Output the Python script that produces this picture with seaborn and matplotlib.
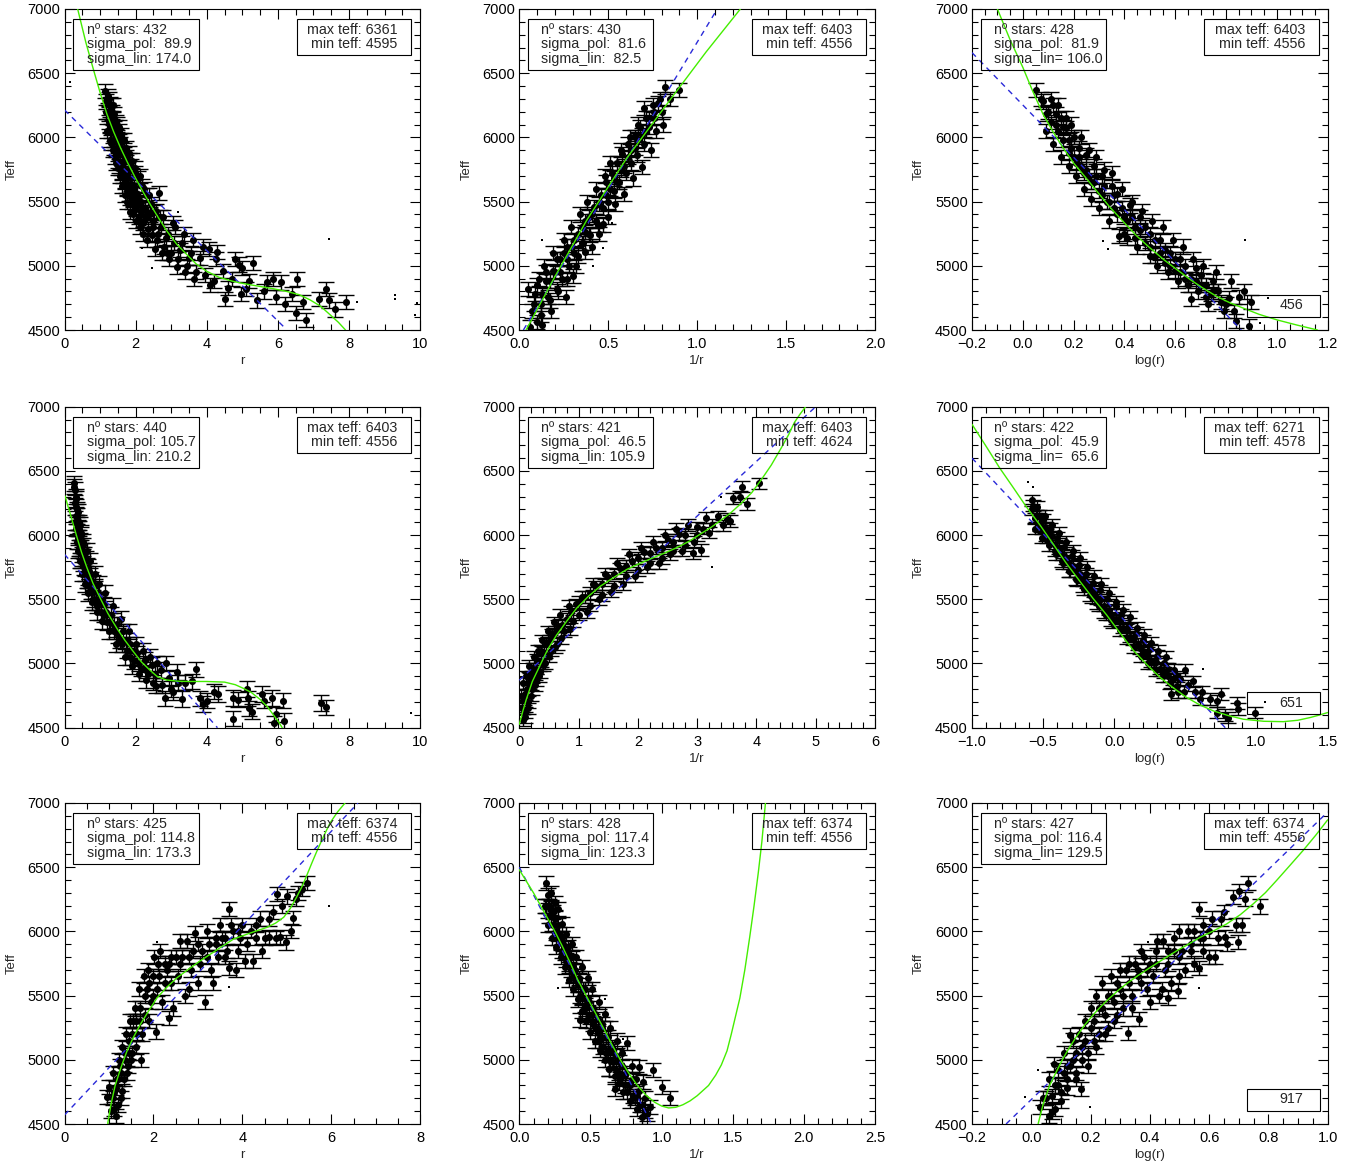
import numpy as np
import matplotlib
matplotlib.use("Agg")
import matplotlib.pyplot as plt
from matplotlib.patches import Rectangle
from matplotlib.ticker import MultipleLocator
import seaborn as sns

sns.set_style("ticks")
plt.rcParams['font.family'] = ['Liberation Sans', 'DejaVu Sans']

# ================= data =================
# stars with error bars, (x, Teff): isolated / edge stars
p1_pts = [(1.13,6361),(1.18,6280),(1.22,6200),(1.25,6120),(1.3,6250),(1.32,6050),(1.35,6150),(1.38,5980),
          (1.42,6080),(1.45,5900),(1.48,6000),(1.5,5820),(1.55,5950),(1.58,5760),(1.62,5880),(1.65,5700),
          (1.7,5820),(1.72,5620),(1.78,5750),(1.8,5560),(1.85,5680),(1.9,5500),(1.95,5620),(2.0,5440),
          (2.05,5560),(2.1,5380),(2.15,5500),(2.2,5330),(2.25,5450),(2.35,5290),(2.4,5400),(2.45,5240),
          (2.5,5350),(2.6,5200),(2.65,5570),(2.7,5300),(2.8,5150),(2.9,5250),(3.0,5100),(3.1,5300),
          (3.2,5050),(3.3,5180),(3.45,5000),(3.55,5100),(3.7,4950),(3.8,5060),(3.95,4930),(4.05,5130),
          (4.2,4880),(4.3,5110),(4.45,4960),(4.5,4740),(4.7,4900),(4.9,5010),(4.95,4780),(5.0,4980),
          (5.2,4880),(5.3,5020),(5.4,4730),(5.6,4800),(5.85,4900),(5.95,4760),(6.1,4870),(6.2,4700),
          (6.4,4780),(6.5,4630),(6.55,4900),(6.7,4720),(6.8,4580),(7.15,4740),(7.35,4820),(7.45,4730),
          (7.6,4660),(7.9,4720)]
p2_pts = [(0.07,4650),(0.09,4780),(0.1,4560),(0.12,4700),(0.13,4540),(0.15,4880),(0.16,4760),(0.18,4650),
          (0.2,4950),(0.21,4820),(0.23,5050),(0.24,4900),(0.26,4760),(0.27,5150),(0.28,5000),(0.3,4920),
          (0.31,5200),(0.33,5080),(0.35,5300),(0.36,5180),(0.37,5105),(0.39,5380),(0.4,5243),(0.42,5460),
          (0.44,5320),(0.46,5550),(0.47,5322),(0.49,5650),(0.5,5500),(0.52,5720),(0.53,5580),(0.55,5800),
          (0.56,5650),(0.58,5870),(0.6,5720),(0.61,5950),(0.63,5800),(0.65,6000),(0.66,5860),(0.68,6080),
          (0.7,5950),(0.7,6230),(0.73,6080),(0.76,6150),(0.78,6270),(0.8,6200),(0.82,6390),(0.85,6300),
          (0.9,6370)]
p3_pts = [(0.05,6370),(0.08,6280),(0.1,6200),(0.12,6250),(0.13,6100),(0.15,6150),(0.16,5980),(0.17,6070),
          (0.18,5880),(0.2,6000),(0.21,5800),(0.22,5920),(0.24,5720),(0.25,5860),(0.27,5650),(0.28,5780),
          (0.3,5580),(0.31,5700),(0.33,5500),(0.35,5720),(0.36,5450),(0.37,5560),(0.38,5230),(0.4,5380),
          (0.41,5220),(0.42,5470),(0.44,5300),(0.46,5380),(0.48,5180),(0.5,5250),(0.52,5080),(0.54,5200),
          (0.56,5020),(0.58,5100),(0.6,4960),(0.62,5050),(0.64,4900),(0.66,4740),(0.68,4980),(0.7,4850),
          (0.72,4760),(0.73,4700),(0.75,4880),(0.77,4800),(0.79,4650),(0.8,4700),(0.82,4880),(0.84,4570),
          (0.85,4760),(0.87,4800),(0.89,4530),(0.9,4720)]
p4_pts = [(0.27,6403),(0.28,6378),(0.29,6250),(0.31,6300),(0.32,6150),(0.35,6200),(0.37,6050),(0.4,6100),
          (0.42,5950),(0.45,6000),(0.48,5850),(0.52,5920),(0.55,5750),(0.6,5820),(0.65,5650),(0.7,5720),
          (0.75,5560),(0.8,5630),(0.88,5480),(0.95,5550),(1.02,5400),(1.1,5460),(1.2,5320),(1.3,5380),
          (1.4,5250),(1.47,5306),(1.55,5180),(1.65,5250),(1.75,5100),(1.85,5150),(1.95,5020),(2.05,5080),
          (2.15,4960),(2.25,5030),(2.35,4920),(2.45,4990),(2.57,4828),(2.7,4950),(2.83,4728),(2.94,4886),
          (3.06,4776),(3.16,4933),(3.3,4724),(3.4,4850),(3.58,4860),(3.69,4954),(3.8,4728),(3.89,4684),
          (4.02,4710),(4.19,4781),(4.31,4763),(4.73,4571),(4.75,4731),(4.89,4718),(5.13,4802),(5.17,4728),
          (5.2,4650),(5.28,4624),(5.55,4763),(5.6,4710),(5.83,4731),(5.88,4534),(5.94,4605),(6.13,4710),
          (6.18,4553),(7.21,4692),(7.36,4658)]
p5_pts = [(0.05,4650),(0.07,4560),(0.08,4720),(0.1,4580),(0.13,4800),(0.15,4650),(0.18,4880),(0.2,4750),
          (0.23,4960),(0.26,4830),(0.3,5030),(0.33,4900),(0.37,5100),(0.4,4990),(0.45,5150),(0.5,5060),
          (0.55,5220),(0.6,5130),(0.65,5290),(0.7,5200),(0.8,5350),(0.85,5270),(0.95,5460),(1.0,5380),
          (1.1,5520),(1.2,5450),(1.3,5600),(1.4,5530),(1.5,5670),(1.6,5600),(1.7,5740),(1.8,5680),
          (1.9,5800),(2.0,5730),(2.1,5870),(2.2,5780),(2.3,5900),(2.4,5820),(2.5,5960),(2.6,5880),
          (2.7,6010),(2.8,5920),(2.93,5858),(3.0,6060),(3.07,5884),(3.15,6136),(3.2,6020),(3.36,6146),
          (3.43,6076),(3.5,6128),(3.55,6110),(3.6,6286),(3.73,6299),(3.76,6378),(3.84,6241),(4.04,6403)]
p6_pts = [(-0.58,6271),(-0.57,6230),(-0.55,6150),(-0.52,6080),(-0.5,6120),(-0.48,6000),(-0.45,6050),
          (-0.42,5920),(-0.4,5980),(-0.37,5850),(-0.35,5910),(-0.32,5780),(-0.3,5840),(-0.27,5720),
          (-0.25,5770),(-0.22,5650),(-0.2,5700),(-0.17,5580),(-0.15,5630),(-0.12,5510),(-0.1,5570),
          (-0.07,5450),(-0.05,5500),(-0.02,5380),(0.015,5445),(0.03,5330),(0.05,5380),(0.08,5260),
          (0.1,5310),(0.13,5190),(0.15,5240),(0.18,5120),(0.2,5180),(0.23,5060),(0.25,5110),(0.28,5000),
          (0.3,5060),(0.33,4950),(0.35,5000),(0.38,4900),(0.4,4763),(0.42,4950),(0.44,4823),(0.46,4880),
          (0.49,4776),(0.52,4830),(0.55,4860),(0.6,4723),(0.62,4780),(0.67,4723),(0.72,4710),(0.72,4618),
          (0.75,4763),(0.78,4597),(0.8,4578),(0.86,4692),(0.87,4645),(0.99,4618)]
p7_pts = [(0.95,4709),(1.01,4788),(1.05,4600),(1.1,4700),(1.15,4560),(1.18,4850),(1.2,4650),(1.25,4950),
          (1.3,4760),(1.35,5050),(1.4,4900),(1.45,5150),(1.5,5000),(1.55,5300),(1.6,5100),(1.7,5400),
          (1.75,5200),(1.85,5550),(1.9,5300),(2.0,5650),(2.06,5220),(2.1,5750),(2.2,5450),(2.3,5700),
          (2.34,5324),(2.4,5600),(2.5,5800),(2.6,5927),(2.7,5500),(2.75,5927),(2.85,5700),(2.94,5984),
          (3.0,5600),(3.1,5850),(3.2,6000),(3.3,5700),(3.4,5900),(3.5,6050),(3.6,5800),(3.69,5717),
          (3.7,6175),(3.8,6000),(3.9,5850),(4.0,6050),(4.06,5770),(4.2,6000),(4.25,5770),(4.4,6100),
          (4.5,5950),(4.59,5953),(4.7,6150),(4.78,6293),(4.85,5953),(4.99,5914),(5.0,6272),(5.13,6102),
          (5.2,6250),(5.34,6330),(5.45,6374)]
p8_pts = [(0.19,6374),(0.2,6280),(0.21,6200),(0.22,6120),(0.24,6050),(0.25,6220),(0.27,6175),(0.28,5980),
          (0.3,6060),(0.31,5900),(0.33,5980),(0.35,5820),(0.37,5900),(0.38,5730),(0.4,5800),(0.42,5640),
          (0.43,5311),(0.44,5720),(0.46,5550),(0.48,5640),(0.49,5450),(0.51,5550),(0.53,5360),(0.55,5220),
          (0.56,5450),(0.58,5280),(0.6,5360),(0.61,5180),(0.63,4932),(0.64,5250),(0.66,5080),(0.67,4775),
          (0.69,5150),(0.7,4980),(0.72,5050),(0.74,4880),(0.76,5128),(0.77,4800),(0.79,4950),(0.8,4720),
          (0.82,4850),(0.84,4945),(0.85,4650),(0.86,4552),(0.87,4827),(0.88,4600),(0.92,4631),(0.94,4919),
          (1.0,4788),(1.06,4704)]
p9_pts = [(0.03,4631),(0.05,4700),(0.06,4560),(0.07,4597),(0.077,4964),(0.08,4800),(0.1,4680),(0.11,4900),
          (0.12,4780),(0.13,5194),(0.14,5000),(0.15,4850),(0.167,4775),(0.17,5100),(0.19,4950),(0.2,5250),
          (0.22,5100),(0.23,5400),(0.25,5200),(0.26,5500),(0.28,5300),(0.29,5600),(0.31,5400),(0.32,5700),
          (0.327,5207),(0.34,5500),(0.35,5750),(0.364,5317),(0.37,5600),(0.38,5800),(0.4,5450),(0.41,5650),
          (0.423,5927),(0.44,5550),(0.445,5927),(0.46,5750),(0.462,5482),(0.48,5850),(0.496,5534),(0.5,6000),
          (0.52,5700),(0.54,5900),(0.55,6000),(0.567,6175),(0.567,5717),(0.58,5850),(0.6,6000),(0.62,5800),
          (0.64,6100),(0.654,5953),(0.68,6270),(0.699,5919),(0.7,6312),(0.71,6050),(0.73,6374),(0.77,6194)]

# stars with error bars inside the crowded band
p1_band = [(1.2,6050),(1.25,6300),(1.28,5980),(1.33,6200),(1.37,5900),(1.4,6180),(1.43,5850),(1.47,6100),
           (1.5,5760),(1.53,6050),(1.56,5700),(1.6,5980),(1.63,5620),(1.67,5900),(1.7,5550),(1.74,5850),
           (1.77,5500),(1.82,5820),(1.85,5420),(1.88,5780),(1.92,5400),(1.97,5720),(2.02,5350),(2.08,5680),
           (2.12,5300),(2.18,5620),(2.22,5250),(2.3,5550),(2.32,5200),(2.42,5480),(2.55,5130),(2.58,5430),
           (2.75,5100),(2.78,5380),(2.95,5050),(3.05,5330),(3.15,4990),(3.35,5250),(3.4,4950),(3.6,5200),
           (3.65,4900),(3.9,5150),(4.1,4850),(4.25,5050),(4.6,4830),(4.8,5050),(5.1,4820),(5.7,4870),
           (1.16,6200),(1.21,6320),(1.24,6180),(1.27,6100),(1.29,6260),(1.31,5960),(1.34,6080),(1.36,6250),
           (1.39,5920),(1.41,6020),(1.44,6120),(1.46,5800),(1.49,5920),(1.52,6080),(1.54,5780),(1.57,5880),
           (1.59,6020),(1.61,5720),(1.64,5800),(1.66,5980),(1.69,5650),(1.71,5750),(1.73,5920),(1.76,5600),
           (1.79,5700),(1.81,5880),(1.84,5560),(1.87,5640),(1.89,5820),(1.93,5520),(1.96,5580),(1.99,5760),
           (2.03,5480),(2.07,5520),(2.11,5700),(2.14,5420),(2.19,5460),(2.24,5600),(2.28,5380),(2.33,5400),
           (2.38,5550),(2.48,5300),(2.53,5420),(2.63,5250),(2.68,5380),(2.85,5220),(2.88,5100),(3.08,5180),
           (3.25,5120),(3.5,5060)]
p2_band = [(0.05,4820),(0.06,4520),(0.11,4900),(0.12,4620),(0.14,5000),(0.17,4730),(0.19,5100),(0.22,4800),
           (0.25,5200),(0.27,4900),(0.29,5300),(0.32,5000),(0.34,5400),(0.37,5260),(0.38,5500),(0.41,5150),
           (0.43,5600),(0.45,5250),(0.48,5700),(0.5,5380),(0.51,5800),(0.54,5480),(0.57,5900),(0.59,5560),
           (0.62,6000),(0.64,5680),(0.67,6100),(0.69,5770),(0.71,6150),(0.74,5900),(0.75,6250),(0.77,6050),
           (0.79,6300),(0.81,6100),
           (0.08,4700),(0.1,4850),(0.13,4780),(0.15,4950),(0.17,4880),(0.19,4960),(0.21,5050),(0.23,4950),
           (0.25,5100),(0.27,5050),(0.29,5150),(0.31,5100),(0.33,5250),(0.35,5180),(0.37,5350),(0.39,5250),
           (0.41,5400),(0.43,5350),(0.45,5480),(0.47,5450),(0.49,5550),(0.51,5600),(0.53,5680),(0.55,5650),
           (0.57,5750),(0.59,5780),(0.61,5850),(0.63,5900),(0.65,5920),(0.67,5980),(0.69,6020),(0.71,6050),
           (0.73,6150),(0.76,6200)]
p3_band = [(0.07,6300),(0.09,6050),(0.11,6300),(0.12,5950),(0.14,6250),(0.15,5850),(0.17,6150),(0.18,5780),
           (0.19,6100),(0.21,5700),(0.23,6000),(0.24,5600),(0.26,5900),(0.27,5520),(0.29,5850),(0.3,5450),
           (0.32,5750),(0.34,5350),(0.35,5620),(0.39,5600),(0.4,5250),(0.43,5500),(0.45,5150),(0.47,5430),
           (0.5,5080),(0.51,5350),(0.53,5000),(0.55,5300),(0.57,4950),(0.59,5200),(0.61,4880),(0.63,5150),
           (0.65,4850),(0.67,5050),(0.69,4800),(0.71,5000),(0.74,4780),(0.76,4950),(0.78,4720),(0.81,4750),
           (0.83,4650),
           (0.09,6180),(0.11,6120),(0.13,6180),(0.14,6050),(0.16,6080),(0.18,5980),(0.19,5920),(0.2,5850),
           (0.22,5850),(0.23,5780),(0.25,5750),(0.26,5700),(0.28,5650),(0.29,5700),(0.31,5550),(0.32,5620),
           (0.34,5500),(0.36,5550),(0.37,5400),(0.39,5450),(0.41,5350),(0.43,5380),(0.44,5220),(0.46,5280),
           (0.48,5300),(0.5,5150),(0.52,5200),(0.54,5100),(0.56,5120),(0.58,5000),(0.6,5050),(0.62,4950),
           (0.64,5000),(0.66,4900),(0.68,4880),(0.7,4930),(0.72,4850),(0.75,4800)]
p4_band = [(0.3,6100),(0.33,6280),(0.34,5950),(0.36,6150),(0.38,5880),(0.41,6050),(0.43,5800),(0.46,6020),
           (0.5,5700),(0.53,5950),(0.57,5620),(0.62,5880),(0.67,5550),(0.72,5800),(0.78,5480),(0.85,5700),
           (0.9,5400),(0.98,5620),(1.05,5330),(1.15,5550),(1.25,5250),(1.35,5450),(1.45,5150),(1.6,5350),
           (1.7,5050),(1.8,5250),(1.9,4980),(2.0,5150),(2.1,4920),(2.2,5100),(2.3,4870),(2.4,5050),
           (2.5,4850),(2.6,5000),(2.75,4830),(2.85,5000),(3.0,4800),(3.2,4850),
           (0.3,6350),(0.32,6220),(0.33,6050),(0.35,6100),(0.37,5980),(0.39,6180),(0.4,5900),(0.43,5900),
           (0.44,6080),(0.47,5800),(0.5,5880),(0.52,5780),(0.56,5850),(0.58,5700),(0.62,5650),(0.66,5750),
           (0.7,5600),(0.74,5650),(0.78,5560),(0.82,5500),(0.87,5600),(0.92,5450),(0.97,5480),(1.03,5500),
           (1.1,5380),(1.18,5400),(1.28,5330),(1.38,5300),(1.5,5220),(1.62,5150),(1.72,5180),(1.85,5050),
           (1.95,5100),(2.1,5000),(2.3,4950),(2.55,4920)]
p5_band = [(0.03,4750),(0.06,4850),(0.09,4620),(0.11,4900),(0.14,4700),(0.17,4980),(0.21,4800),(0.25,5050),
           (0.28,4870),(0.32,5100),(0.35,4930),(0.39,5180),(0.43,5000),(0.48,5250),(0.53,5100),(0.58,5320),
           (0.63,5150),(0.68,5380),(0.75,5250),(0.83,5450),(0.9,5330),(1.05,5520),(1.15,5400),(1.25,5620),
           (1.35,5500),(1.45,5700),(1.55,5560),(1.65,5780),(1.75,5620),(1.85,5850),(1.95,5680),(2.05,5900),
           (2.15,5750),(2.25,5950),(2.35,5780),(2.45,6000),(2.55,5850),(2.65,6050),(2.75,5880),(2.85,6080),
           (2.95,5950),(3.1,6050),(3.25,6080),
           (0.1,4760),(0.16,4850),(0.22,4900),(0.29,4960),(0.36,5020),(0.42,5080),(0.52,5180),(0.62,5250),
           (0.72,5300),(0.88,5400),(1.0,5480),(1.2,5550),(1.4,5620),(1.6,5700),(1.8,5760),(2.0,5820),
           (2.2,5860),(2.4,5900),(2.6,5950),(2.8,6000),(3.0,6000)]
p6_band = [(-0.56,6050),(-0.54,6220),(-0.51,5980),(-0.49,6150),(-0.46,5920),(-0.44,6080),(-0.41,5850),
           (-0.39,6020),(-0.36,5780),(-0.34,5950),(-0.31,5720),(-0.29,5880),(-0.26,5650),(-0.24,5820),
           (-0.21,5580),(-0.19,5750),(-0.16,5520),(-0.14,5680),(-0.11,5450),(-0.09,5620),(-0.06,5380),
           (-0.04,5550),(-0.01,5320),(0.01,5480),(0.04,5260),(0.06,5420),(0.09,5200),(0.11,5360),(0.14,5130),
           (0.16,5280),(0.19,5060),(0.21,5220),(0.24,5000),(0.26,5160),(0.29,4950),(0.31,5100),(0.34,4900),
           (0.36,5050),(0.39,4850),(0.45,4780),(0.5,4950),(0.57,4780),
           (-0.58,6200),(-0.56,6130),(-0.53,6150),(-0.51,6050),(-0.49,6060),(-0.47,5980),(-0.44,5990),
           (-0.42,5880),(-0.39,5900),(-0.37,5800),(-0.34,5820),(-0.32,5720),(-0.29,5760),(-0.27,5660),
           (-0.24,5700),(-0.22,5600),(-0.19,5630),(-0.17,5530),(-0.14,5560),(-0.12,5470),(-0.09,5500),
           (-0.07,5400),(-0.04,5420),(-0.02,5340),(0.01,5350),(0.04,5330),(0.06,5280),(0.09,5270),(0.11,5210),
           (0.14,5200),(0.17,5150),(0.2,5100),(0.23,5080),(0.26,5020),(0.29,5010),(0.32,4960),(0.35,4930),
           (0.38,4960),(0.41,4880),(0.44,4900)]
p7_band = [(1.08,4900),(1.12,4620),(1.16,4780),(1.22,5000),(1.26,4700),(1.3,5100),(1.33,4850),(1.38,5200),
           (1.42,4950),(1.48,5300),(1.52,5050),(1.58,5400),(1.62,5200),(1.67,5550),(1.72,5000),(1.78,5650),
           (1.82,5350),(1.88,5700),(1.95,5450),(2.02,5800),(2.08,5550),(2.15,5850),(2.25,5600),(2.35,5750),
           (2.45,5400),(2.55,5650),(2.65,5800),(2.8,5550),(2.9,5850),(3.05,5750),(3.15,5450),(3.25,5900),
           (3.35,5600),(3.45,5800),(3.55,5950),(3.65,5850),(3.75,6050),(3.85,5700),(3.95,5950),(4.1,5900),
           (4.3,6050),(4.45,5850),(4.6,6100),(4.75,5950),(4.9,6200),(5.1,6000),(5.25,6300),
           (1.12,4750),(1.2,4850),(1.28,4900),(1.36,5000),(1.44,5050),(1.52,5200),(1.6,5300),(1.7,5300),
           (1.8,5500),(1.9,5600),(2.0,5500),(2.12,5650),(2.25,5750),(2.4,5800),(2.6,5750),(2.8,5800),
           (3.0,5900),(3.2,5800),(3.4,5950),(3.6,5950),(3.9,6000),(4.3,5950)]
p8_band = [(0.18,6200),(0.2,6050),(0.22,6300),(0.23,5950),(0.25,6100),(0.26,5880),(0.27,6050),(0.29,5800),
           (0.3,5950),(0.32,5720),(0.34,5880),(0.35,5620),(0.36,5800),(0.38,5550),(0.39,5700),(0.41,5470),
           (0.42,5620),(0.44,5380),(0.45,5550),(0.47,5300),(0.48,5480),(0.5,5220),(0.52,5400),(0.53,5150),
           (0.55,5320),(0.57,5080),(0.58,5250),(0.6,5000),(0.62,5180),(0.63,4930),(0.65,5100),(0.67,4870),
           (0.68,5030),(0.7,4820),(0.72,4950),(0.73,4750),(0.75,4900),(0.78,4680),(0.8,4850),(0.83,4620),
           (0.84,4760),(0.86,4650),(0.88,4700),(0.9,4580),
           (0.19,6200),(0.21,6120),(0.22,6180),(0.24,6150),(0.26,6000),(0.27,5950),(0.29,5920),(0.3,5850),
           (0.32,5850),(0.33,5780),(0.35,5750),(0.36,5700),(0.38,5650),(0.4,5620),(0.41,5580),(0.43,5500),
           (0.44,5480),(0.46,5430),(0.47,5400),(0.49,5350),(0.51,5300),(0.52,5280),(0.54,5250),(0.56,5150),
           (0.57,5180),(0.59,5100),(0.61,5050),(0.62,5080),(0.64,5000),(0.66,4980),(0.68,4920),(0.7,4900),
           (0.71,4850),(0.74,4800),(0.76,4750),(0.78,4800),(0.81,4700),(0.83,4720)]
p9_band = [(0.04,4700),(0.06,4850),(0.08,4620),(0.09,4920),(0.1,4750),(0.11,5050),(0.12,4850),(0.13,4950),
           (0.14,5150),(0.15,4900),(0.16,5200),(0.17,5000),(0.18,5300),(0.19,5050),(0.2,5400),(0.21,5150),
           (0.22,5500),(0.23,5200),(0.24,5600),(0.25,5350),(0.26,5250),(0.27,5650),(0.28,5450),(0.29,5350),
           (0.3,5700),(0.31,5500),(0.33,5750),(0.34,5400),(0.36,5650),(0.37,5850),(0.39,5550),(0.4,5750),
           (0.42,5850),(0.43,5500),(0.45,5700),(0.47,5600),(0.48,5950),(0.5,5650),(0.51,5850),(0.53,6000),
           (0.55,5750),(0.57,5950),(0.58,6050),(0.6,5800),(0.61,6100),(0.63,5950),(0.65,6150),(0.66,5900),
           (0.69,6050),(0.72,6250),
           (0.07,4720),(0.09,4800),(0.12,4950),(0.15,5050),(0.18,5150),(0.21,5300),(0.24,5400),(0.27,5500),
           (0.3,5550),(0.33,5600),(0.36,5700),(0.39,5700),(0.42,5750),(0.46,5850),(0.5,5800),(0.54,5850),
           (0.58,5950)]

# tiny dots without error bars
p1_dots = [(0.16,6431),(7.45,5212),(3.18,5421),(9.28,4774),(9.3,4742),(9.9,4710),(9.86,4620),(8.22,4716),(2.46,4982),(2.17,5139)]
p2_dots = [(0.126,5204),(0.473,5139),(0.413,4996),(0.52,5335)]
p3_dots = [(0.874,5203),(0.316,5190),(0.336,5130),(0.966,4749),(0.934,4553)]
p4_dots = [(9.74,4618)]
p5_dots = [(3.4,6300),(3.25,5750)]
p6_dots = [(-0.606,6417),(-0.571,6378),(0.625,4960),(1.06,4697)]
p7_dots = [(5.94,6194),(3.69,5565),(2.08,5921)]
p8_dots = [(0.27,5560),(0.73,5162),(0.6,5472)]
p9_dots = [(0.395,5914),(0.567,5560),(-0.022,4709),(0.198,4631),(0.023,4924)]

# polynomial fit (green), sampled along the drawn curve
p1_fit = [(0.37,7000),(0.6,6740),(0.82,6522),(1.0,6350),(1.19,6183),(1.38,6045),(1.57,5922),(1.78,5800),
          (1.99,5687),(2.2,5580),(2.41,5479),(2.65,5370),(2.88,5270),(3.15,5170),(3.44,5087),(3.7,5015),
          (4.0,4957),(4.35,4910),(4.75,4878),(5.1,4858),(5.5,4839),(5.9,4820),(6.25,4800),(6.6,4775),
          (6.9,4735),(7.2,4685),(7.47,4618),(7.7,4560),(7.9,4500)]
p2_fit = [(0.038,4500),(0.2,4915),(0.38,5357),(0.6,5830),(0.868,6330),(1.05,6665),(1.243,7000)]
p3_fit = [(-0.1,7000),(-0.05,6760),(0.0,6546),(0.04,6355),(0.08,6179),(0.12,6040),(0.159,5917),(0.2,5800),
          (0.25,5681),(0.3,5560),(0.342,5458),(0.395,5345),(0.447,5235),(0.5,5140),(0.553,5051),(0.6,4980),
          (0.658,4894),(0.71,4825),(0.763,4762),(0.815,4712),(0.868,4670),(0.93,4622),(1.0,4579),(1.08,4538),
          (1.16,4500)]
p4_fit = [(0.02,6304),(0.08,6240),(0.16,6168),(0.25,6080),(0.35,5984),(0.48,5865),(0.63,5747),(0.8,5625),
          (1.0,5511),(1.22,5390),(1.47,5275),(1.7,5180),(1.94,5091),(2.17,5010),(2.41,4946),(2.6,4900),
          (2.85,4872),(3.2,4862),(3.5,4860),(4.0,4860),(4.5,4855),(4.8,4835),(5.0,4810),(5.25,4775),
          (5.5,4720),(5.7,4665),(5.9,4590),(6.02,4545),(6.12,4500)]
p5_fit = [(0.0,4526),(0.06,4630),(0.12,4723),(0.22,4860),(0.35,4986),(0.48,5110),(0.63,5222),(0.8,5330),
          (0.97,5432),(1.17,5525),(1.37,5603),(1.6,5672),(1.82,5734),(2.05,5783),(2.27,5826),(2.47,5864),
          (2.67,5905),(2.87,5953),(3.06,6010),(3.24,6062),(3.4,6115),(3.57,6175),(3.74,6246),(3.92,6330),
          (4.08,6430),(4.25,6545),(4.42,6680),(4.54,6780),(4.64,6877),(4.74,6945),(4.83,7000)]
p6_fit = [(-1.0,6863),(-0.9,6690),(-0.805,6522),(-0.71,6370),(-0.618,6220),(-0.52,6075),(-0.43,5931),
          (-0.34,5785),(-0.243,5642),(-0.15,5508),(-0.055,5380),(0.04,5238),(0.133,5104),(0.23,4990),
          (0.32,4894),(0.415,4810),(0.508,4736),(0.6,4678),(0.696,4631),(0.8,4595),(0.907,4566),(1.05,4550),
          (1.188,4547),(1.29,4558),(1.376,4579),(1.44,4598),(1.5,4618)]
p7_fit = [(0.97,4500),(1.05,4660),(1.14,4801),(1.27,4940),(1.4,5063),(1.55,5175),(1.7,5272),(1.9,5385),
          (2.08,5482),(2.3,5565),(2.53,5639),(2.8,5708),(3.05,5770),(3.4,5850),(3.8,5940),(4.2,5990),
          (4.55,6031),(4.75,6065),(4.93,6110),(5.08,6180),(5.22,6267),(5.35,6355),(5.45,6437),(5.56,6530),
          (5.67,6620),(5.82,6735),(5.97,6843),(6.14,6930),(6.31,7000)]
p8_fit = [(0.0,6480),(0.1,6300),(0.18,6140),(0.25,6000),(0.3,5890),(0.36,5750),(0.41,5625),(0.47,5500),
          (0.53,5375),(0.59,5250),(0.65,5120),(0.71,5000),(0.77,4895),(0.83,4800),(0.89,4725),(0.95,4670),
          (1.0,4640),(1.05,4625),(1.1,4630),(1.15,4650),(1.2,4680),(1.25,4720),(1.29,4760),(1.33,4800),
          (1.38,4880),(1.42,4960),(1.46,5070),(1.49,5200),(1.52,5340),(1.55,5480),(1.585,5700),(1.62,5960),
          (1.65,6200),(1.68,6460),(1.705,6700),(1.73,7000)]
p9_fit = [(0.023,4500),(0.04,4655),(0.062,4801),(0.085,4910),(0.107,5010),(0.13,5100),(0.152,5180),
          (0.18,5270),(0.209,5351),(0.237,5420),(0.265,5482),(0.293,5540),(0.321,5592),(0.36,5656),
          (0.4,5717),(0.445,5783),(0.49,5848),(0.53,5900),(0.569,5953),(0.614,6003),(0.659,6058),
          (0.705,6130),(0.749,6215),(0.79,6302),(0.828,6398),(0.873,6515),(0.918,6633),(0.96,6750),(1.0,6869)]

# linear fit (blue dashed), end points
p1_lin = [(0.0,6214),(6.2,4515)]
p2_lin = [(0.023,4500),(1.113,7000)]
p3_lin = [(-0.2,6660),(0.86,4500)]
p4_lin = [(0.0,5850),(4.3,4500)]
p5_lin = [(0.0,4870),(5.0,7000)]
p6_lin = [(-1.0,6600),(0.78,4500)]
p7_lin = [(0.0,4570),(6.6,7000)]
p8_lin = [(0.0,6500),(0.93,4500)]
p9_lin = [(-0.085,4500),(1.0,6930)]

teff_err = [55, 55, 55, 60, 45, 45, 55, 55, 55]
n_stars = [432, 430, 428, 440, 421, 422, 425, 428, 427]
sigma_pol = [89.9, 81.6, 81.9, 105.7, 46.5, 45.9, 114.8, 117.4, 116.4]
sigma_lin = [174.0, 82.5, 106.0, 210.2, 105.9, 65.6, 173.3, 123.3, 129.5]
max_teff = [6361, 6403, 6403, 6403, 6403, 6271, 6374, 6374, 6374]
min_teff = [4595, 4556, 4556, 4556, 4624, 4578, 4556, 4556, 4556]
corner_num = {2: 456, 5: 651, 8: 917}

x_labels = ['r', '1/r', 'log(r)'] * 3
x_limits = [(0, 10), (0, 2), (-0.2, 1.2), (0, 10), (0, 6), (-1.0, 1.5), (0, 8), (0, 2.5), (-0.2, 1.0)]
x_major = [2, 0.5, 0.2, 2, 1, 0.5, 2, 0.5, 0.2]
x_minor = [0.5, 0.1, 0.05, 0.5, 0.2, 0.1, 0.5, 0.1, 0.05]

all_pts = [p1_pts + p1_band, p2_pts + p2_band, p3_pts + p3_band, p4_pts + p4_band, p5_pts + p5_band,
           p6_pts + p6_band, p7_pts + p7_band, p8_pts + p8_band, p9_pts + p9_band]
all_dots = [p1_dots, p2_dots, p3_dots, p4_dots, p5_dots, p6_dots, p7_dots, p8_dots, p9_dots]
all_fit = [p1_fit, p2_fit, p3_fit, p4_fit, p5_fit, p6_fit, p7_fit, p8_fit, p9_fit]
all_lin = [p1_lin, p2_lin, p3_lin, p4_lin, p5_lin, p6_lin, p7_lin, p8_lin, p9_lin]

# ================= layout (pixels) =================
W, H = 1352, 1167
col_left = [64.5, 519.3, 972.0]
row_top = [9.0, 406.7, 803.0]
ax_w, ax_h = 355.7, 321.0

fig = plt.figure(figsize=(W / 100, H / 100), dpi=100)

for i in range(9):
    r, c = divmod(i, 3)
    ax = fig.add_axes([col_left[c] / W, 1 - (row_top[r] + ax_h) / H, ax_w / W, ax_h / H])

    pts = np.array(all_pts[i])
    dots = np.array(all_dots[i])
    fit = np.array(all_fit[i])
    lin = np.array(all_lin[i])

    ax.errorbar(pts[:, 0], pts[:, 1], yerr=teff_err[i], fmt='none', ecolor='black',
                elinewidth=1.0, capsize=5.5, capthick=1.0, zorder=2)
    sns.scatterplot(x=pts[:, 0], y=pts[:, 1], ax=ax, color='black', s=26,
                    edgecolor='black', linewidth=0, zorder=3)
    sns.scatterplot(x=dots[:, 0], y=dots[:, 1], ax=ax, color='black', s=2,
                    marker='s', linewidth=0, zorder=3)
    sns.lineplot(x=lin[:, 0], y=lin[:, 1], ax=ax, color='#2a2ad8', lw=1.0,
                 sort=False, estimator=None, zorder=4)
    ax.lines[-1].set_dashes([4, 3.5])
    sns.lineplot(x=fit[:, 0], y=fit[:, 1], ax=ax, color='#44ee00', lw=1.0,
                 sort=False, estimator=None, zorder=5)

    ax.set_xlim(*x_limits[i])
    ax.set_ylim(4500, 7000)
    ax.xaxis.set_major_locator(MultipleLocator(x_major[i]))
    ax.xaxis.set_minor_locator(MultipleLocator(x_minor[i]))
    ax.yaxis.set_major_locator(MultipleLocator(500))
    ax.yaxis.set_minor_locator(MultipleLocator(100))
    ax.tick_params(which='both', direction='in', top=True, right=True, labelsize=10.5,
                   width=0.8, color='black', labelcolor='black')
    ax.tick_params(which='major', length=7.5)
    ax.tick_params(which='minor', length=4)
    ax.tick_params(axis='x', pad=5)
    ax.tick_params(axis='y', pad=3)
    for sp in ax.spines.values():
        sp.set_visible(True)
        sp.set_linewidth(0.8)
        sp.set_color('black')
    ax.set_xlabel(x_labels[i], fontsize=9.5, labelpad=3)
    ax.set_ylabel('Teff', fontsize=9.5, labelpad=7)

    # info boxes (outline only, the curves show through as in the original)
    ax.add_patch(Rectangle((0.025, 0.81), 0.352, 0.159, transform=ax.transAxes,
                           fill=False, edgecolor='black', lw=0.8, zorder=6))
    ax.add_patch(Rectangle((0.653, 0.857), 0.322, 0.112, transform=ax.transAxes,
                           fill=False, edgecolor='black', lw=0.8, zorder=6))
    sep = ':' if c < 2 else '='
    lines = [f"nº stars: {n_stars[i]}",
             f"sigma_pol:{sigma_pol[i]:6.1f}",
             f"sigma_lin{sep}{sigma_lin[i]:6.1f}"]
    for k, txt in enumerate(lines):
        ax.text(0.062, 0.935 - 0.0455 * k, txt, transform=ax.transAxes, fontsize=10.3,
                ha='left', va='center', zorder=7)
    ax.text(0.936, 0.935, f"max teff: {max_teff[i]}", transform=ax.transAxes, fontsize=10.3,
            ha='right', va='center', zorder=7)
    ax.text(0.936, 0.8895, f"min teff: {min_teff[i]}", transform=ax.transAxes, fontsize=10.3,
            ha='right', va='center', zorder=7)
    if i in corner_num:
        ax.add_patch(Rectangle((0.774, 0.042), 0.203, 0.068, transform=ax.transAxes,
                               fill=False, edgecolor='black', lw=0.8, zorder=6))
        ax.text(0.932, 0.077, str(corner_num[i]), transform=ax.transAxes, fontsize=10.3,
                ha='right', va='center', zorder=7)

fig.savefig('out.png', dpi=100)
